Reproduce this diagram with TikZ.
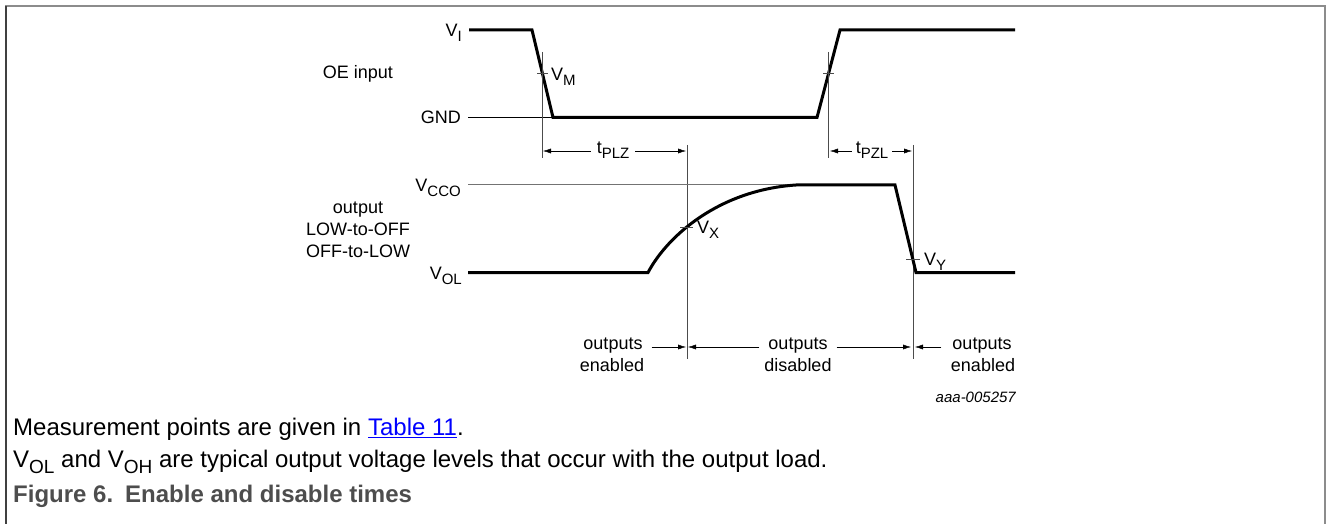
\documentclass[tikz,border=0pt]{standalone}
\usepackage{fontspec}
\setmainfont{Liberation Sans}
\usetikzlibrary{arrows.meta}
\definecolor{framegray}{HTML}{8C8C8C}
\definecolor{capgray}{HTML}{4D4D4D}
\definecolor{linkblue}{HTML}{0000FF}
\newcommand{\vsub}[1]{\raisebox{-5pt}{\fontsize{15}{15}\selectfont #1}}
\newcommand{\csub}[1]{\raisebox{-6pt}{\fontsize{19}{19}\selectfont #1}}
\begin{document}
\begin{tikzpicture}[x=1pt, y=-1pt, >={Latex[length=8pt,width=5pt]}]
		\tikzstyle{lbl} = [font=\fontsize{18}{22}\selectfont, inner sep=0pt]
		\tikzstyle{dim} = [lbl, anchor=mid, inner xsep=6pt]
		\tikzstyle{sig} = [line width=3pt, line join=miter]
		\tikzstyle{ref} = [line width=1pt]
		\tikzstyle{guide} = [line width=1pt, black!70]
		\tikzstyle{captxt} = [font=\fontsize{24}{28}\selectfont, anchor=mid west, inner sep=0pt]
		\useasboundingbox (0,0) rectangle (1326,524);
		% frame
		\draw[framegray, line width=2pt] (5,6.5) -- (1326,6.5);
		\draw[black!75, line width=1.5pt] (6,6.5) -- (6,524);
		\draw[framegray, line width=1.5pt] (1325,6.5) -- (1325,524);
		% OE input
		\coordinate (ia) at (469,30);
		\coordinate (ib) at (532,30);
		\coordinate (ic) at (553,117.5);
		\coordinate (id) at (817,117.5);
		\coordinate (ie) at (840,30);
		\coordinate (if) at (1015,30);
		\coordinate (gndL) at (468,117.5);
		\node[lbl, anchor=base east](vi) at (462,36.5) {V\vsub{I}};
		\node[lbl](oein) at (358,74) {OE input};
		\node[lbl, anchor=base east](gnd) at (461,124) {GND};
		\draw[ref] (gndL) -- (ic);
		\draw[sig] (ia) -- (ib) -- (ic) -- (id) -- (ie) -- (if);
		\draw[guide] (542.5,52) -- (542.5,158);
		\draw[guide] (828.5,52) -- (828.5,158);
		\draw[guide] (537,74) -- (548,74);
		\draw[guide] (823,74) -- (834,74);
		\node[lbl, anchor=base west](vm) at (551,80.5) {V\vsub{M}};
		% dimension lines
		\node[dim](tplz) at (613,151) {t\vsub{PLZ}};
		\node[dim, inner xsep=4pt](tpzl) at (872,151) {t\vsub{PZL}};
		\draw[->] (tplz.mid west) -- (543,151);
		\draw[->] (tplz.mid east) -- (686,151);
		\draw[->] (tpzl.mid west) -- (830,151);
		\draw[->] (tpzl.mid east) -- (912,151);
		\draw[guide] (687,145) -- (687,359);
		\draw[guide] (913,145) -- (913,359);
		% output
		\coordinate (oa) at (468,272.5);
		\coordinate (ob) at (648,272.5);
		\coordinate (oc) at (796,185);
		\coordinate (od) at (895,185);
		\coordinate (oe) at (916,272.5);
		\coordinate (of) at (1015,272.5);
		\coordinate (vccoL) at (468,185);
		\node[lbl, anchor=base east](vcco) at (461,191.5) {V\vsub{CCO}};
		\node[lbl, align=center](outl) at (358,230) {output\\LOW-to-OFF\\OFF-to-LOW};
		\node[lbl, anchor=base east](vol) at (462,279) {V\vsub{OL}};
		\draw[ref, black!55] (vccoL) -- (oc);
		\draw[sig] (oa) -- (ob) .. controls (668,235) and (720,190) .. (oc) -- (od) -- (oe) -- (of);
		\draw[guide] (680,227) -- (693,227);
		\draw[guide] (906,259) -- (920,259);
		\node[lbl, anchor=base west](vx) at (697,233.5) {V\vsub{X}};
		\node[lbl, anchor=base west](vy) at (924,265.5) {V\vsub{Y}};
		% output states
		\node[dim, inner xsep=9pt](en1) at (613,347) {outputs};
		\node[lbl, anchor=mid](en1b) at (612,369) {enabled};
		\node[dim, inner xsep=9pt](dis) at (798,347) {outputs};
		\node[lbl, anchor=mid](disb) at (798,369) {disabled};
		\node[dim, inner xsep=11pt](en2) at (982,347) {outputs};
		\node[lbl, anchor=mid](en2b) at (983,369) {enabled};
		\draw[->] (en1.mid east) -- (686,347);
		\draw[->] (dis.mid west) -- (688,347);
		\draw[->] (dis.mid east) -- (911,347);
		\draw[->] (en2.mid west) -- (915,347);
		\node[inner sep=0pt, anchor=mid east, font=\fontsize{15}{18}\selectfont\itshape](code) at (1016,400) {aaa-005257};
		% caption
		\node[captxt](note1) at (13,433) {Measurement points are given in \textcolor{linkblue}{\underline{Table 11}}.};
		\node[captxt](note2) at (13,465) {V\csub{OL} and V\csub{OH} are typical output voltage levels that occur with the output load.};
		\node[captxt, text=capgray, font=\fontsize{24}{28}\selectfont\bfseries](fig) at (13,500) {Figure 6.\enspace Enable and disable times};
	\end{tikzpicture}
\end{document}
